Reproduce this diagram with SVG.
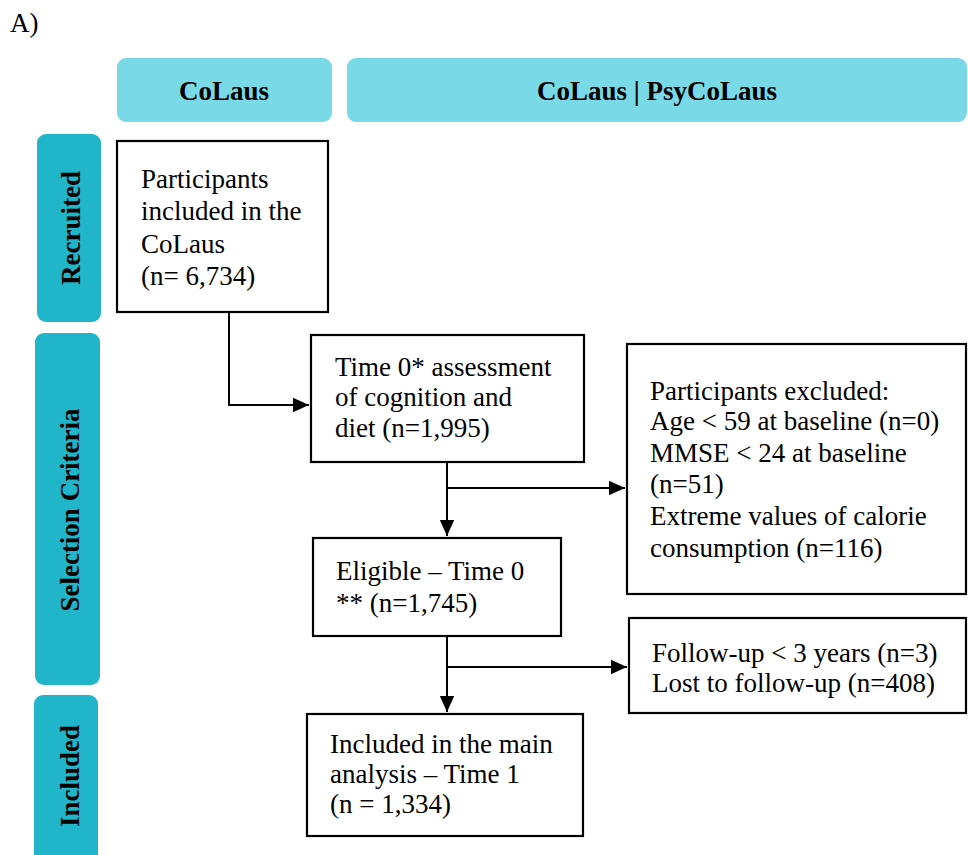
<svg xmlns="http://www.w3.org/2000/svg" width="968" height="855" viewBox="0 0 968 855">
<defs>
<style>
.hdr{fill:#79d9e6}
.side{fill:#21b5c9}
.box{fill:#fff;stroke:#000;stroke-width:2.2}
.t{font-family:"Liberation Serif","Times New Roman",serif;font-size:27px;fill:#000}
.b{font-family:"Liberation Serif","Times New Roman",serif;font-size:27px;font-weight:bold;fill:#000;text-anchor:middle}
.c{fill:none;stroke:#000;stroke-width:2}
</style>
<marker id="ah" viewBox="0 0 10 10" refX="10" refY="5" markerWidth="7" markerHeight="7" orient="auto" markerUnits="userSpaceOnUse">
<path d="M0,0 L10,5 L0,10 z" fill="#000"/>
</marker>
<marker id="arr" viewBox="0 0 10 10" refX="10" refY="5" markerWidth="16" markerHeight="16" orient="auto" markerUnits="userSpaceOnUse">
<path d="M0,0.5 L10,5 L0,9.5 z" fill="#000"/>
</marker>
</defs>
<rect width="968" height="855" fill="#fff"/>
<text class="t" x="10" y="32" font-size="28">A)</text>
<g id="hdr-colaus"><rect class="hdr" x="117" y="58" width="215" height="64" rx="9"/><text class="b" x="224" y="100">CoLaus</text></g>
<g id="hdr-psy"><rect class="hdr" x="347" y="58" width="620" height="64" rx="9"/><text class="b" x="657" y="100">CoLaus | PsyCoLaus</text></g>
<g id="side-recruited"><rect class="side" x="37" y="134" width="64" height="188" rx="9"/><text class="b" transform="translate(80,228) rotate(-90)">Recruited</text></g>
<g id="side-selection"><rect class="side" x="35" y="333" width="65" height="352" rx="9"/><text class="b" transform="translate(79,510) rotate(-90)">Selection Criteria</text></g>
<g id="side-included"><rect class="side" x="34" y="695" width="64" height="175" rx="9"/><text class="b" transform="translate(79,776) rotate(-90)">Included</text></g>
<g id="connectors">
<path class="c" d="M229,312 V405 H309" marker-end="url(#arr)"/>
<path class="c" d="M447,462 V536" marker-end="url(#arr)"/>
<path class="c" d="M447,488 H625" marker-end="url(#arr)"/>
<path class="c" d="M447,636 V712" marker-end="url(#arr)"/>
<path class="c" d="M447,667 H627" marker-end="url(#arr)"/>
</g>
<g id="n1"><rect class="box" x="117" y="141" width="211" height="171"/>
<text class="t"><tspan x="141" y="188">Participants</tspan><tspan x="141" y="220">included in the</tspan><tspan x="141" y="253">CoLaus</tspan><tspan x="141" y="285">(n= 6,734)</tspan></text></g>
<g id="n2"><rect class="box" x="311" y="335" width="273" height="127"/>
<text class="t"><tspan x="335" y="376">Time 0* assessment</tspan><tspan x="335" y="406">of cognition and</tspan><tspan x="335" y="437">diet (n=1,995)</tspan></text></g>
<g id="n3"><rect class="box" x="627" y="344" width="339" height="250"/>
<text class="t"><tspan x="650" y="400">Participants excluded:</tspan><tspan x="650" y="430">Age &lt; 59 at baseline (n=0)</tspan><tspan x="650" y="462">MMSE &lt; 24 at baseline</tspan><tspan x="650" y="493">(n=51)</tspan><tspan x="650" y="525">Extreme values of calorie</tspan><tspan x="650" y="557">consumption (n=116)</tspan></text></g>
<g id="n4"><rect class="box" x="313" y="538" width="248" height="98"/>
<text class="t"><tspan x="336" y="580">Eligible – Time 0</tspan><tspan x="336" y="612">** (n=1,745)</tspan></text></g>
<g id="n5"><rect class="box" x="629" y="618" width="337" height="95"/>
<text class="t"><tspan x="652" y="662">Follow-up &lt; 3 years (n=3)</tspan><tspan x="652" y="692">Lost to follow-up (n=408)</tspan></text></g>
<g id="n6"><rect class="box" x="307" y="714" width="276" height="122"/>
<text class="t"><tspan x="330" y="753">Included in the main</tspan><tspan x="330" y="783">analysis – Time 1</tspan><tspan x="330" y="813">(n = 1,334)</tspan></text></g>
</svg>
